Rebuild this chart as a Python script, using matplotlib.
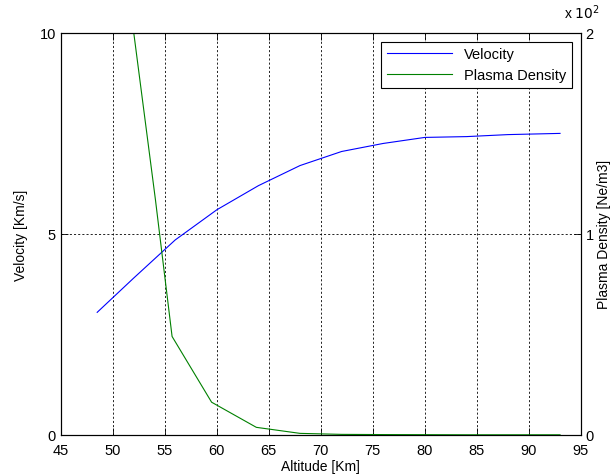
import matplotlib
matplotlib.use("Agg")
import matplotlib.pyplot as plt
from matplotlib.ticker import ScalarFormatter

plt.rcParams['font.family'] = ['Liberation Sans', 'DejaVu Sans']
plt.rcParams['font.size'] = 10

# Velocity profile
alt_v = [48.5, 52, 56, 60, 64, 68, 72, 76, 80, 84, 88, 93]
velocity = [3.05, 3.9, 4.85, 5.6, 6.2, 6.7, 7.05, 7.25, 7.4, 7.42, 7.47, 7.5]

# Plasma density profile (Ne/m3)
alt_d = [48.5, 54.1, 55.7, 59.5, 63.8, 68, 72, 76, 80, 84, 88, 93]
density = [340, 117, 49, 16.3, 3.8, 0.8, 0.3, 0.2, 0.15, 0.1, 0.1, 0.1]

fig = plt.figure(figsize=(6.14, 4.77), dpi=100)
ax = fig.add_axes([0.099, 0.086, 0.847, 0.843])
ax2 = ax.twinx()

l1, = ax.plot(alt_v, velocity, color=(0, 0, 1), lw=0.8, label='Velocity')
l2, = ax2.plot(alt_d, density, color=(0, 0.5, 0), lw=0.8, label='Plasma Density')

ax.set_xlim(45, 95)
ax.set_ylim(0, 10)
ax.set_xticks(range(45, 96, 5))
ax.set_yticks([0, 5, 10])
ax2.set_ylim(0, 200)
ax2.set_yticks([0, 100, 200])

fmt = ScalarFormatter(useMathText=False)
fmt.set_powerlimits((0, 0))
ax2.yaxis.set_major_formatter(fmt)
ax2.yaxis.get_offset_text().set_visible(False)
fig.text(0.948, 0.973, r'x $10^2$', ha='center', va='center', fontsize=10)

ax.grid(True, color='black', linestyle=(0, (2.5, 2.5)), linewidth=0.6)
ax.set_xlabel('Altitude [Km]', labelpad=1)
ax.set_ylabel('Velocity [Km/s]', labelpad=8)
ax2.set_ylabel('Plasma Density [Ne/m3]', labelpad=2)

for a in (ax, ax2):
    a.tick_params(direction='in', length=5, width=0.6, top=True, labelsize=10.5)
    for s in a.spines.values():
        s.set_linewidth(0.8)
ax.tick_params(axis='x', pad=6)

leg = ax2.legend([l1, l2], ['Velocity', 'Plasma Density'], loc='upper right',
                 fancybox=False, edgecolor='black', framealpha=1,
                 borderaxespad=0.6, fontsize=10.5, handlelength=4.5,
                 labelspacing=0.45)
leg.get_frame().set_linewidth(0.8)

fig.savefig('out.png', dpi=100)
